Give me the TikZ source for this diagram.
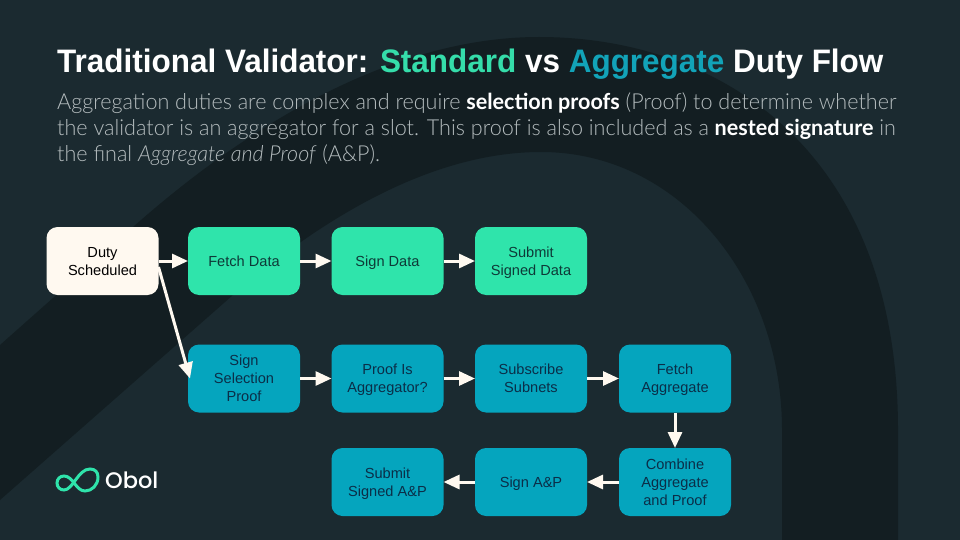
\documentclass[tikz,border=0pt]{standalone}
\usepackage{fontspec}
\usetikzlibrary{arrows.meta}
\setmainfont{Liberation Sans}
\newfontfamily\titlefont[FakeStretch=0.968]{Liberation Sans}
\newfontfamily\parafont[UprightFont=*-Light,BoldFont=*-Bold,ItalicFont=*-LightItalic,BoldItalicFont=*-LightItalic,Extension=.ttf,FakeStretch=0.98]{Lato}
\newfontfamily\logofont[UprightFont=*-Medium,Extension=.ttf]{Poppins}
\newcommand{\boxstrut}{\rule[-4pt]{0pt}{18pt}}
\definecolor{bgc}{HTML}{1B2A30}
\definecolor{bandc}{HTML}{131E22}
\definecolor{greenc}{HTML}{2FE4AB}
\definecolor{tealc}{HTML}{05A5BE}
\definecolor{creamc}{HTML}{FFF9F0}
\definecolor{inkg}{HTML}{0E3A38}
\definecolor{inkt}{HTML}{0B2E48}
\definecolor{greyc}{HTML}{B4BCBE}
\definecolor{titleteal}{HTML}{12A3B8}
\definecolor{titlegreen}{HTML}{35DDAA}
\tikzset{
 x=1pt,y=-1pt,
 flowbox/.style={minimum width=112pt,minimum height=68pt,rounded corners=11pt,inner sep=0pt,outer sep=0pt,align=center,font=\fontsize{14.6}{18}\selectfont},
 stdbox/.style={flowbox,fill=greenc,text=inkg},
 aggbox/.style={flowbox,fill=tealc,text=inkt},
 startbox/.style={flowbox,fill=creamc,text=black},
 flow/.style={draw=creamc,line width=3pt,-{Triangle[length=16pt,width=14pt]}},
}
\begin{document}
\begin{tikzpicture}
\useasboundingbox (0,0) rectangle (960,540);
\fill[bgc] (0,0) rectangle (960,540);
% background arch
\fill[bandc] (0,345) -- (133,227) .. controls (245,128) and (390,37) .. (539,37)
 .. controls (720,37) and (898,150) .. (898,430) -- (898,540) -- (782,540) -- (782,430)
 .. controls (782,280) and (680,152) .. (541,152)
 .. controls (430,152) and (320,220) .. (233,295) -- (0,500) -- cycle;
% title and text
\node[anchor=base west,inner sep=0pt,text=white,font=\titlefont\fontsize{32.5}{38}\selectfont\bfseries] (title) at (57,73)
 {Traditional Validator: \textcolor{titlegreen}{Standard} vs \textcolor{titleteal}{Aggregate} Duty Flow};
\node[anchor=base west,inner sep=0pt,text=greyc,font=\parafont\fontsize{22}{26}\selectfont] (l1) at (57,110)
 {Aggregation duties are complex and require \textcolor{white}{\bfseries selection proofs} (Proof) to determine whether};
\node[anchor=base west,inner sep=0pt,text=greyc,font=\parafont\fontsize{22}{26}\selectfont] (l2) at (57,136)
 {the validator is an aggregator for a slot. This proof is also included as a \textcolor{white}{\bfseries nested signature} in};
\node[anchor=base west,inner sep=0pt,text=greyc,font=\parafont\fontsize{22}{26}\selectfont] (l3) at (57,162)
 {the final \textit{Aggregate and Proof} (A\&P).};
% boxes
\node[startbox] (duty) at (102.5,261) {\boxstrut Duty\\Scheduled\boxstrut};
\node[stdbox] (fetch) at (244,261) {\boxstrut Fetch Data};
\node[stdbox] (sign) at (387.5,261) {\boxstrut Sign Data};
\node[stdbox] (submit) at (531,261) {\boxstrut Submit\\Signed Data\boxstrut};
\node[aggbox] (ssp) at (244,378.5) {\boxstrut Sign\\Selection\\Proof\boxstrut};
\node[aggbox] (isagg) at (387.5,378.5) {\boxstrut Proof Is\\Aggregator?\boxstrut};
\node[aggbox] (subs) at (531,378.5) {\boxstrut Subscribe\\Subnets\boxstrut};
\node[aggbox] (fagg) at (675,378.5) {\boxstrut Fetch\\Aggregate\boxstrut};
\node[aggbox] (comb) at (675,482) {\boxstrut Combine\\Aggregate\\and Proof\boxstrut};
\node[aggbox] (signap) at (531,482) {\boxstrut Sign A\&P};
\node[aggbox] (subap) at (387.5,482) {\boxstrut Submit\\Signed A\&P\boxstrut};
% connectors
\draw[flow] (duty.east) -- (fetch.west);
\draw[flow] (fetch.east) -- (sign.west);
\draw[flow] (sign.east) -- (submit.west);
\draw[flow] ([yshift=-6pt]duty.east) -- ([xshift=2pt]ssp.west);
\draw[flow] (ssp.east) -- (isagg.west);
\draw[flow] (isagg.east) -- (subs.west);
\draw[flow] (subs.east) -- (fagg.west);
\draw[flow] (fagg.south) -- (comb.north);
\draw[flow] (comb.west) -- (signap.east);
\draw[flow] (signap.west) -- (subap.east);
% logo
\draw[greenc,line width=3pt] (90,469) .. controls (95,469) and (98,472) .. (98,477)
 .. controls (98,485) and (92,491) .. (85,491)
 .. controls (76,491) and (73,476) .. (64,476)
 .. controls (60,476) and (57,479) .. (57,483)
 .. controls (57,487) and (60,490) .. (64,490)
 .. controls (73,490) and (78,469) .. (90,469) -- cycle;
\node[anchor=base west,inner sep=0pt,text=white,font=\logofont\fontsize{22.5}{24}\selectfont] (obol) at (105,488) {Obol};
\end{tikzpicture}
\end{document}
